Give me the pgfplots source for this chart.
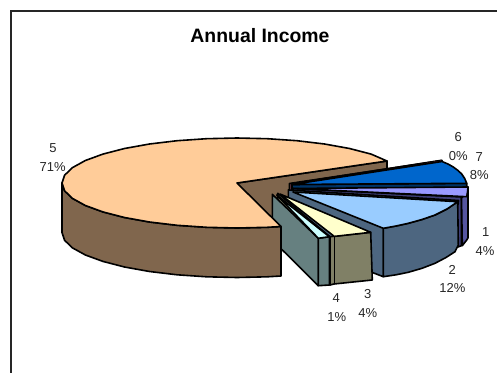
\documentclass[border=0pt]{standalone}
\usepackage{pgfplots}
\usepackage{fontspec}
\setmainfont{Liberation Sans}
\pgfplotsset{compat=1.18}
\definecolor{peach}{HTML}{FFCC99}
\definecolor{peachwall}{HTML}{80664D}
\definecolor{royal}{HTML}{0066CC}
\definecolor{royalwall}{HTML}{003366}
\definecolor{wine}{HTML}{993344}
\definecolor{winewall}{HTML}{804050}
\definecolor{lilac}{HTML}{9999FF}
\definecolor{lilacwall}{HTML}{5555A0}
\definecolor{lilacband}{HTML}{3F3F78}
\definecolor{sky}{HTML}{99CCFF}
\definecolor{skywall}{HTML}{4D6680}
\definecolor{cream}{HTML}{FFFFCC}
\definecolor{creamwall}{HTML}{808066}
\definecolor{ice}{HTML}{CCFFFF}
\definecolor{icewall}{HTML}{668080}
\tikzset{
  face/.style={draw=black, line width=1.6pt, line join=round, fill=#1},
  lab/.style={font=\fontsize{13}{15}\selectfont, text=black!85, inner sep=0pt, anchor=center}
}
\begin{document}
\begin{tikzpicture}
\begin{axis}[
  hide axis, scale only axis,
  width=497pt, height=372pt,
  xmin=0, xmax=497, ymin=0, ymax=372,
  y dir=reverse
]
% chart frame, open towards the right and bottom
\addplot[draw=black!85, line width=1.2pt, forget plot] coordinates {(11,380) (11,11) (505,11)};

% slice 5: wall behind the gap
\addplot[face=peachwall] coordinates {(237,183) (387,161) (387,211) (237,233)} --cycle;

% slice 6
\addplot[face=winewall] coordinates {(289.5,183.5) (442,160.5) (442,210) (289.5,233)} --cycle;
\addplot[face=wine, line width=1pt] coordinates {(291,183.5) (441.5,160) (442,161.5)} --cycle;

% slice 7
\addplot[face=royalwall] coordinates {(292,184.5) (466.7,183.3) (466.7,190) (292,190)} --cycle;
\addplot[face=royal] coordinates {(292,184.5) (442,161.5) (448,164) (453.3,167) (458,170.5) (461.7,174) (464.7,178.5) (466.7,183.3)} --cycle;

% slice 1
\addplot[face=lilacband] coordinates {(293,188.5) (461.5,197) (461.5,245.7) (455,248) (293,200)} --cycle;
\addplot[face=lilacwall] coordinates {(461.5,198) (466.7,193) (468,187) (468,238) (466.7,240) (462.3,245.7)} --cycle;
\addplot[face=lilac] coordinates {(293,188.5) (468,187) (467.5,192) (466.7,196.7)} --cycle;

% slice 2
\addplot[face=skywall] coordinates {(288.3,190) (458.5,200.5) (458.3,204) (383.3,228.3) (383.3,276.7) (288.3,240)} --cycle;
\addplot[face=skywall] coordinates {(383.3,228.3) (396,226) (408.3,223.3) (422,219.5) (435,215) (447,209) (457.7,201.7) (458.3,245) (455,251.7) (446,257.5) (435,263.3) (422,268.3) (408.3,272.3) (396,274.8) (383.3,276.7)} --cycle;
\addplot[face=sky] coordinates {(293,192) (457.7,201.7) (447,209) (435,215) (422,219.5) (408.3,223.3) (396,226) (383.3,228.3)} --cycle;

% slice 3
\addplot[face=creamwall] coordinates {(277.7,193.3) (330,236.7) (330,285) (277.7,243)} --cycle;
\addplot[face=creamwall] coordinates {(330,236.7) (370.7,232.3) (372.3,280) (334,284) (330,285)} --cycle;
\addplot[draw=black, line width=1.6pt] coordinates {(334.3,236.4) (334.3,284)};
\addplot[face=cream] coordinates {(280,194) (370.7,232.3) (334.3,236.4)} --cycle;

% slice 4
\addplot[face=icewall] coordinates {(272.3,194.3) (318.3,238.3) (318.3,285.7) (272.3,240)} --cycle;
\addplot[face=icewall] coordinates {(318.3,238.3) (329.3,236.7) (329.3,285) (318.3,285.7)} --cycle;
\addplot[face=ice] coordinates {(276.7,195) (329.3,236.7) (318.3,238.3)} --cycle;

% slice 5: rim and top, in front of its neighbours
\addplot[face=peachwall] coordinates {
  (62,183) (64.6,190.8) (72.5,198.4) (85.4,205.5) (102.9,211.9) (124.5,217.5)
  (149.5,222) (177.2,225.3) (206.6,227.3) (237,228) (267.4,227.3) (281,226.5)
  (281,276) (267.4,276.8) (237,277.5) (206.6,276.8) (177.2,274.8) (149.5,271.5)
  (124.5,267) (102.9,261.4) (85.4,255) (72.5,247.9) (64.6,240.3) (62,232.5)} --cycle;
\addplot[face=peach] coordinates {
  (237,183) (387,161) (371.1,154.1) (349.5,148.5) (324.5,144) (296.9,140.7)
  (267.4,138.7) (237,138) (206.6,138.7) (177.2,140.7) (149.5,144) (124.5,148.5)
  (102.9,154.1) (85.4,160.5) (72.5,167.6) (64.6,175.2) (62,183) (64.6,190.8)
  (72.5,198.4) (85.4,205.5) (102.9,211.9) (124.5,217.5) (149.5,222) (177.2,225.3)
  (206.6,227.3) (237,228) (267.4,227.3) (281,226.5)} --cycle;

% title and slice labels
\node[inner sep=0pt, font=\fontsize{19.4}{22}\selectfont\bfseries] at (axis cs:260,35.5) {Annual Income};
\node[lab] at (axis cs:53,148) {5};
\node[lab] at (axis cs:52.7,166.7) {71\%};
\node[lab] at (axis cs:458.3,137) {6};
\node[lab] at (axis cs:458.3,155.7) {0\%};
\node[lab] at (axis cs:479.3,156.7) {7};
\node[lab] at (axis cs:479.3,175) {8\%};
\node[lab] at (axis cs:485.7,232.3) {1};
\node[lab] at (axis cs:485,251) {4\%};
\node[lab] at (axis cs:452.3,270) {2};
\node[lab] at (axis cs:452.3,288.3) {12\%};
\node[lab] at (axis cs:367.7,294.3) {3};
\node[lab] at (axis cs:367.7,313.3) {4\%};
\node[lab] at (axis cs:336.3,298.3) {4};
\node[lab] at (axis cs:336.7,316.7) {1\%};
\end{axis}
\pgfresetboundingbox
\useasboundingbox (current axis.south west) rectangle (current axis.north east);
\end{tikzpicture}
\end{document}
